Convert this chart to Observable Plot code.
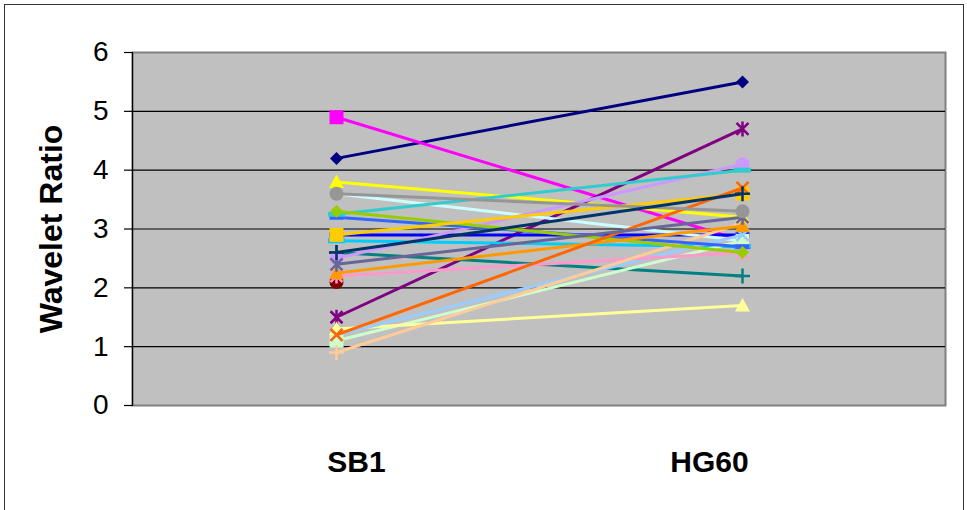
<!DOCTYPE html>
<html>
<head>
<meta charset="utf-8">
<script src="https://cdn.jsdelivr.net/npm/d3@7"></script>
<script src="https://cdn.jsdelivr.net/npm/@observablehq/plot@0.6"></script>
<style>
  html, body { margin: 0; padding: 0; background: #fff; }
  #wrap { position: relative; width: 967px; height: 510px; overflow: hidden; }
  #border { position: absolute; left: 4px; top: 4px; width: 960px; height: 520px; border: 1.5px solid #333; box-sizing: border-box; pointer-events: none; }
  svg { font-family: "Liberation Sans", Arial, sans-serif; }
</style>
</head>
<body>
<div id="wrap"><div id="border"></div></div>
<script>
// ---- data ----
const categories = ["SB1", "HG60"];
const seriesNames = ["S1","S2","S3","S5","S6","S7","S8","S9","S10","S11","S12","S13","S14","S15","S16","S17","S18","S19","S20","S21","S22","S23","S24","S25"];
const seriesColors = ["#000080","#FF00FF","#FFFF00","#800080","#800000","#008080","#0000FF","#00CCFF","#CCFFFF","#CCFFCC","#FFFF99","#99CCFF","#FF99CC","#CC99FF","#FFCC99","#3366FF","#33CCCC","#99CC00","#FFCC00","#FF9900","#FF6600","#666699","#969696","#003366"];
const seriesMarkers = ["diamond","square","triangle","star","circle","plus","dash","longdash","diamond","square","triangle","x","star","circle","plus","dash","longdash","diamond","square","triangle","x","star","circle","plus"];
const sb1Values  = [4.2, 4.9, 3.8, 1.5, 2.1, 2.6, 2.9, 2.8, 3.6, 1.1, 1.3, 1.2, 2.2, 2.5, 0.9, 3.2, 3.25, 3.3, 2.9, 2.25, 1.2, 2.4, 3.6, 2.6];
const hg60Values = [5.5, 2.8, 3.2, 4.7, null, 2.2, 2.9, 2.7, 2.8, 2.8, 1.7, 2.9, 2.6, 4.1, 3.1, 2.7, 4.0, 2.6, 3.6, 3.05, 3.7, 3.2, 3.3, 3.6];
const yTicks = [0, 1, 2, 3, 4, 5, 6];
const gridValues = [1, 2, 3, 4, 5];
const yLabel = "Wavelet Ratio";

// ---- custom Excel-like marker symbols ----
const symbols = {
  diamond: {draw(c) { const h = 6.5; c.moveTo(0, -h); c.lineTo(h, 0); c.lineTo(0, h); c.lineTo(-h, 0); c.closePath(); }},
  square: {draw(c) { const h = 7; c.rect(-h, -h, 2 * h, 2 * h); }},
  triangle: {draw(c) { c.moveTo(0, -7.5); c.lineTo(7.5, 6); c.lineTo(-7.5, 6); c.closePath(); }},
  circle: {draw(c) { const r = 7; c.moveTo(r, 0); c.arc(0, 0, r, 0, 2 * Math.PI); }},
  x: {draw(c) { const h = 6; c.moveTo(-h, -h); c.lineTo(h, h); c.moveTo(-h, h); c.lineTo(h, -h); }},
  star: {draw(c) { const h = 6; c.moveTo(-h, -h); c.lineTo(h, h); c.moveTo(-h, h); c.lineTo(h, -h); c.moveTo(0, -7.5); c.lineTo(0, 7.5); }},
  plus: {draw(c) { const h = 7.5; c.moveTo(-h, 0); c.lineTo(h, 0); c.moveTo(0, -h); c.lineTo(0, h); }},
  dash: {draw(c) { c.rect(-7, -2.5, 14, 5); }},
  longdash: {draw(c) { c.rect(-8.5, -2.5, 17, 5); }}
};
const strokedMarkers = new Set(["x", "star", "plus"]);

const rows = [];
seriesNames.forEach((s, i) => {
  rows.push({series: s, cat: categories[0], value: sb1Values[i]});
  rows.push({series: s, cat: categories[1], value: hg60Values[i]});
});

const seriesMarks = [];
seriesNames.forEach((s, i) => {
  const data = rows.filter(r => r.series === s && r.value != null);
  const color = seriesColors[i];
  const m = seriesMarkers[i];
  seriesMarks.push(Plot.line(data, {x: "cat", y: "value", stroke: color, strokeWidth: 3}));
  if (strokedMarkers.has(m)) {
    seriesMarks.push(Plot.dot(data, {x: "cat", y: "value", symbol: symbols[m], r: 7, fill: "none", stroke: color, strokeWidth: 2.5}));
  } else {
    seriesMarks.push(Plot.dot(data, {x: "cat", y: "value", symbol: symbols[m], r: 7, fill: color, stroke: "none"}));
  }
});

const chart = Plot.plot({
  width: 967,
  height: 510,
  marginLeft: 132,
  marginRight: 22,
  marginTop: 52,
  marginBottom: 105,
  style: {background: "transparent", fontFamily: "Liberation Sans, Arial, sans-serif", color: "black"},
  x: {type: "point", domain: categories, padding: 0.5, axis: null},
  y: {domain: [0, 6], axis: null},
  marks: [
    Plot.frame({fill: "#C0C0C0", stroke: "#808080", strokeWidth: 2}),
    Plot.ruleY(gridValues, {stroke: "black", strokeWidth: 1.2}),
    Plot.frame({anchor: "left", stroke: "black", strokeWidth: 1.2}),
    Plot.axisY(yTicks, {tickSize: 8, tickPadding: 16, fontSize: 28, tickFormat: d3.format("d"), label: null, stroke: "black", strokeWidth: 1.2}),
    Plot.axisX([categories[0]], {tickSize: 0, tickPadding: 45, fontSize: 30, fontWeight: "bold", dx: 20, label: null}),
    Plot.axisX([categories[1]], {tickSize: 0, tickPadding: 45, fontSize: 30, fontWeight: "bold", dx: -33, label: null}),
    Plot.text([yLabel], {frameAnchor: "left", textAnchor: "middle", rotate: -90, dx: -81, fontSize: 32, fontWeight: "bold", fill: "black"}),
    ...seriesMarks
  ]
});

document.getElementById("wrap").insertBefore(chart, document.getElementById("border"));
</script>
</body>
</html>
